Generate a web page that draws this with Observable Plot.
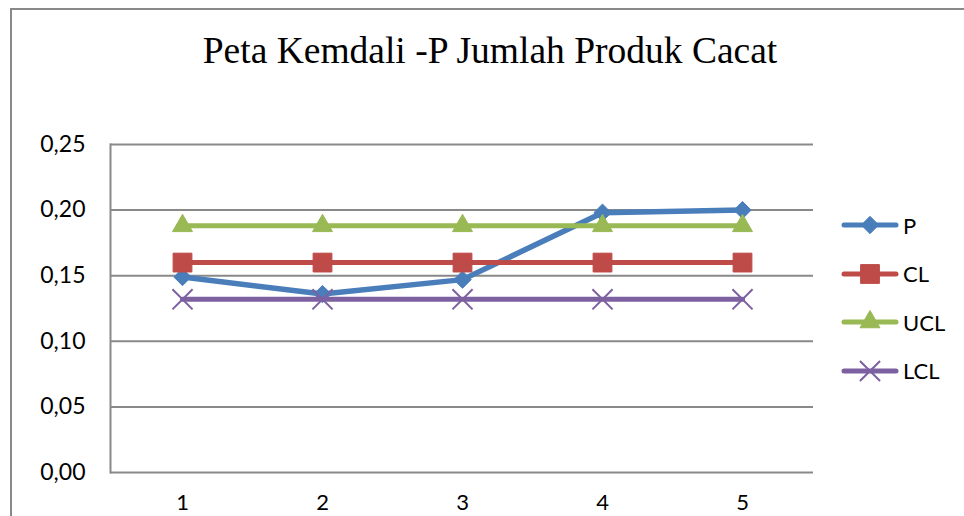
<!DOCTYPE html>
<html>
<head>
<meta charset="utf-8">
<script src="https://cdn.jsdelivr.net/npm/d3@7"></script>
<script src="https://cdn.jsdelivr.net/npm/@observablehq/plot@0.6"></script>
<style>
  html, body { margin: 0; padding: 0; background: #fff; }
  #wrap { position: relative; width: 964px; height: 516px; overflow: hidden; background: #fff; }
  #border { position: absolute; left: 10px; top: 8px; width: 1000px; height: 600px;
            border-left: 2px solid #898989; border-top: 2px solid #898989; }
  #title { position: absolute; left: 0; width: 980px; top: 33px; text-align: center;
           font-family: "Liberation Serif", "Times New Roman", serif; font-size: 37.5px; line-height: 36px; color: #000; white-space: nowrap; }
  #chart { position: absolute; left: 0; top: 0; }
  #legend { position: absolute; left: 838px; top: 210px; font-family: Lato, sans-serif; font-size: 22px; color: #000; }
  .row { position: absolute; left: 0; height: 30px; display: flex; align-items: center; white-space: nowrap; }
  .row svg { display: block; }
  .row span { margin-left: 3px; }
</style>
</head>
<body>
<div id="wrap">
  <div id="border"></div>
  <div id="chart"></div>
  <div id="title">Peta Kemdali -P Jumlah Produk Cacat</div>
  <div id="legend"></div>
</div>
<script>
// ---- data ----
const categories = ["1", "2", "3", "4", "5"];
const pValues   = [0.149, 0.136, 0.147, 0.198, 0.200];
const clValues  = [0.160, 0.160, 0.160, 0.160, 0.160];
const uclValues = [0.188, 0.188, 0.188, 0.188, 0.188];
const lclValues = [0.132, 0.132, 0.132, 0.132, 0.132];
const yTicks = [0, 0.05, 0.10, 0.15, 0.20, 0.25];
const seriesNames = ["P", "CL", "UCL", "LCL"];

// ---- styles ----
const seriesStyle = {
  P:   {color: "#4A7EBB", symbol: "diamond2", r: 7.8, fill: true, width: 5.5},
  CL:  {color: "#BE4B48", symbol: "square",   r: 10.6, fill: true, width: 5},
  UCL: {color: "#98B954", symbol: "triangle", r: 7.4, fill: true, width: 5},
  LCL: {color: "#7D60A0", symbol: "times",    r: 9.2, fill: false, width: 5}
};
const seriesValues = {P: pValues, CL: clValues, UCL: uclValues, LCL: lclValues};

const table = seriesNames.map(name =>
  categories.map((c, i) => ({series: name, x: c, y: seriesValues[name][i]}))
);

const fmt = d => d.toFixed(2).replace(".", ",");
const gridColor = "#898989";

const marks = [
  Plot.gridY(yTicks.filter(d => d > 0), {stroke: gridColor, strokeOpacity: 1, strokeWidth: 2}),
  Plot.ruleY([0], {stroke: gridColor, strokeWidth: 2}),
  Plot.frame({anchor: "left", stroke: gridColor, strokeWidth: 2}),
  Plot.axisY(yTicks, {tickSize: 0, tickPadding: 25, tickFormat: fmt, fontSize: 23, fill: "#000", label: null}),
  Plot.axisX(categories, {tickSize: 0, tickPadding: 22, fontSize: 22, fill: "#000", label: null})
];

table.forEach(rows => {
  const s = seriesStyle[rows[0].series];
  marks.push(Plot.line(rows, {x: "x", y: "y", stroke: s.color, strokeWidth: s.width, strokeLinejoin: "round", strokeLinecap: "round"}));
  marks.push(Plot.dot(rows, {
    x: "x", y: "y", symbol: () => s.symbol, r: s.r,
    fill: s.fill ? s.color : "none",
    stroke: s.color, strokeWidth: s.fill ? 1 : 2
  }));
});

const chart = Plot.plot({
  width: 964,
  height: 516,
  marginLeft: 110,
  marginRight: 151,
  marginTop: 144,
  marginBottom: 44,
  style: {fontFamily: "Lato, sans-serif", background: "transparent", overflow: "visible"},
  x: {type: "point", domain: categories, padding: 0.5, align: 0.5, axis: null},
  y: {domain: [0, 0.25], axis: null},
  symbol: {type: "identity"},
  marks
});
document.getElementById("chart").appendChild(chart);

// ---- legend ----
const legend = document.getElementById("legend");
const symbolTypes = {diamond2: d3.symbolDiamond2, square: d3.symbolSquare, triangle: d3.symbolTriangle, times: d3.symbolTimes};
seriesNames.forEach((name, i) => {
  const s = seriesStyle[name];
  const row = document.createElement("div");
  row.className = "row";
  row.style.top = (i * 48.5) + "px";
  const svg = d3.create("svg").attr("width", 62).attr("height", 30);
  svg.append("line").attr("x1", 6).attr("x2", 58).attr("y1", 15).attr("y2", 15)
    .attr("stroke", s.color).attr("stroke-width", 5).attr("stroke-linecap", "round");
  svg.append("path")
    .attr("transform", "translate(32,15)")
    .attr("d", d3.symbol(symbolTypes[s.symbol], s.r * s.r * Math.PI)())
    .attr("fill", s.fill ? s.color : "none")
    .attr("stroke", s.color).attr("stroke-width", s.fill ? 1 : 2);
  row.appendChild(svg.node());
  const label = document.createElement("span");
  label.textContent = name;
  row.appendChild(label);
  legend.appendChild(row);
});
</script>
</body>
</html>
